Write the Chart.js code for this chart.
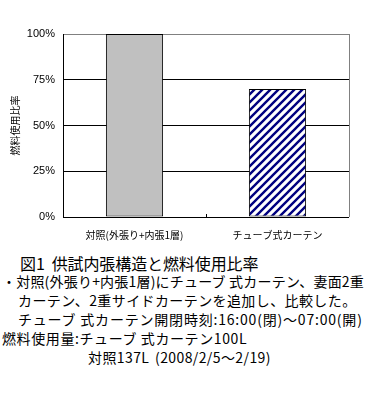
<!DOCTYPE html>
<html>
<head>
<meta charset="utf-8">
<script src="https://cdn.jsdelivr.net/npm/chart.js@4.4.1/dist/chart.umd.min.js"></script>
<style>
  html, body { margin: 0; padding: 0; background: #fff; }
  #wrap { position: relative; width: 372px; height: 396px; overflow: hidden; }
  #chartBox { position: absolute; left: 0; top: 0; width: 372px; height: 245px; }
  .cap { position: absolute; font-family: "Noto Sans CJK JP", sans-serif; color: #000; white-space: nowrap; line-height: 1; font-size: 14px; letter-spacing: 0.4px; }
</style>
</head>
<body>
<div id="wrap">
  <div id="chartBox"><canvas id="chart" width="372" height="245"></canvas></div>
  <div class="cap" style="left:20px; top:255px; font-size:16px; letter-spacing:-0.1px;">図1&nbsp;&nbsp;供試内張構造と燃料使用比率</div>
  <div class="cap" style="left:2px; top:274px; letter-spacing:0.2px;">・対照(外張り+内張1層)にチューブ 式カーテン、妻面2重</div>
  <div class="cap" style="left:18px; top:293px;">カーテン、2重サイドカーテンを追加し、比較した。</div>
  <div class="cap" style="left:18px; top:312px; letter-spacing:0.8px;">チューブ 式カーテン開閉時刻:16:00(閉)～07:00(開)</div>
  <div class="cap" style="left:2px; top:331px; letter-spacing:0.6px;">燃料使用量:チューブ 式カーテン100L</div>
  <div class="cap" style="left:88px; top:350px;">対照137L</div>
  <div class="cap" style="left:155px; top:350px;">(2008/2/5～2/19)</div>
</div>
<script>
const categories = ["対照(外張り+内張1層)", "チューブ式カーテン"];
const usageRatio = [100, 70];
const yTicks = [0, 25, 50, 75, 100];

// diagonal navy stripes for the second bar
const makeHatch = () => {
  const c = document.createElement("canvas");
  c.width = 8;
  c.height = 8;
  const g = c.getContext("2d");
  g.fillStyle = "#fff";
  g.fillRect(0, 0, 8, 8);
  g.strokeStyle = "#000080";
  g.lineWidth = 2.4;
  g.beginPath();
  g.moveTo(-2, 10); g.lineTo(10, -2);
  g.moveTo(-6, 6); g.lineTo(6, -6);
  g.moveTo(2, 14); g.lineTo(14, 2);
  g.stroke();
  return g.createPattern(c, "repeat");
};

const plotFrame = {
  id: "plotFrame",
  afterDatasetsDraw(chart) {
    const { ctx, chartArea: a, scales } = chart;
    ctx.save();
    ctx.lineWidth = 1;
    ctx.strokeStyle = "#808080";
    ctx.beginPath();
    ctx.moveTo(Math.round(a.right) + 0.5, a.top);
    ctx.lineTo(Math.round(a.right) + 0.5, a.bottom);
    ctx.stroke();
    ctx.strokeStyle = "#000";
    ctx.beginPath();
    ctx.moveTo(Math.round(a.left) + 0.5, a.top);
    ctx.lineTo(Math.round(a.left) + 0.5, a.bottom + 0.5);
    ctx.lineTo(a.right, Math.round(a.bottom) + 0.5);
    // small tick between the two categories
    const mid = Math.round((scales.x.getPixelForValue(0) + scales.x.getPixelForValue(1)) / 2) + 0.5;
    ctx.moveTo(mid, a.bottom);
    ctx.lineTo(mid, a.bottom - 3);
    ctx.stroke();
    ctx.restore();
  }
};

const ctx = document.getElementById("chart").getContext("2d");
new Chart(ctx, {
  type: "bar",
  data: {
    labels: categories,
    datasets: [{
      data: usageRatio,
      backgroundColor: ["#c0c0c0", makeHatch()],
      borderColor: "#000",
      borderWidth: 1,
      borderSkipped: false,
      barPercentage: 0.4,
      categoryPercentage: 1.0
    }]
  },
  options: {
    responsive: false,
    animation: false,
    events: [],
    layout: { padding: { left: 0, top: 34, right: 23, bottom: 0 } },
    plugins: { legend: { display: false }, tooltip: { enabled: false } },
    scales: {
      x: {
        grid: { display: false },
        border: { display: false },
        ticks: {
          color: "#000",
          padding: 4,
          font: { family: "Noto Sans CJK JP", size: 10 }
        },
        afterFit(scale) { scale.height = 28; }
      },
      y: {
        min: 0,
        max: 100,
        afterBuildTicks(scale) { scale.ticks = yTicks.map(v => ({ value: v })); },
        grid: {
          color: c => (c.tick && c.tick.value === 100 ? "#808080" : "#000"),
          lineWidth: 1,
          drawTicks: false
        },
        border: { display: false },
        ticks: {
          color: "#000",
          padding: 8,
          font: { family: "Liberation Sans", size: 11 },
          callback: v => v + "%"
        },
        title: {
          display: true,
          text: "燃料使用比率",
          color: "#000",
          padding: { top: 9, bottom: 0 },
          font: { family: "Noto Sans CJK JP", size: 10 }
        },
        afterFit(scale) { scale.width = 63; }
      }
    }
  },
  plugins: [plotFrame]
});
</script>
</body>
</html>
